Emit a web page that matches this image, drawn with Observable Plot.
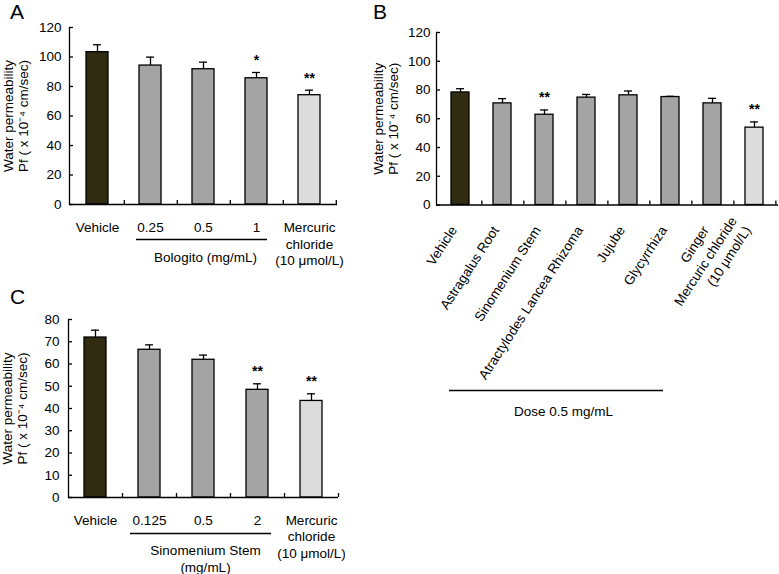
<!DOCTYPE html>
<html><head><meta charset="utf-8">
<script src="https://cdn.jsdelivr.net/npm/d3@7"></script>
<script src="https://cdn.jsdelivr.net/npm/@observablehq/plot@0.6"></script>
<style>
body{margin:0;background:#fff;}
#fig{position:relative;width:779px;height:574px;font-family:"Liberation Sans",Arial,sans-serif;color:#000;}
.panel{position:absolute;}
.letter{position:absolute;font-size:21px;line-height:1;}
</style></head><body><div id="fig"></div>
<script>
// ---- Panel A data ----
const catsA = ["Vehicle", "0.25", "0.5", "1", "Mercuric chloride"];
const labelsA = ["Vehicle", "0.25", "0.5", "1", "Mercuric\nchloride\n(10 \u03bcmol/L)"];
const valuesA = [103.3, 94.2, 91.7, 85.6, 74.1];
const errorsA = [5.0, 5.7, 4.8, 3.9, 3.4];
const sigA = ["", "", "", "*", "**"];
const kindsA = ["vehicle", "test", "test", "test", "control"];
const groupA = {label: "Bologito (mg/mL)", from: "0.25", to: "1", at: "0.5"};

// ---- Panel B data ----
const catsB = ["Vehicle", "Astragalus Root", "Sinomenium Stem", "Atractylodes Lancea Rhizoma", "Jujube", "Glycyrrhiza", "Ginger", "Mercuric chloride"];
const labelsB = ["Vehicle", "Astragalus Root", "Sinomenium Stem", "Atractylodes Lancea Rhizoma", "Jujube", "Glycyrrhiza", "Ginger", "Mercuric chloride\n(10 \u03bcmol/L)"];
const valuesB = [78.3, 70.7, 62.8, 74.7, 76.3, 75.1, 70.7, 53.8];
const errorsB = [2.6, 3.3, 3.3, 2.2, 3.0, 0.5, 3.5, 4.0];
const sigB = ["", "", "**", "", "", "", "", "**"];
const kindsB = ["vehicle", "test", "test", "test", "test", "test", "test", "control"];
const groupB = {label: "Dose 0.5 mg/mL", from: "Vehicle", to: "Glycyrrhiza", at: "Sinomenium Stem"};

// ---- Panel C data ----
const catsC = ["Vehicle", "0.125", "0.5", "2", "Mercuric chloride"];
const labelsC = ["Vehicle", "0.125", "0.5", "2", "Mercuric\nchloride\n(10 \u03bcmol/L)"];
const valuesC = [71.9, 66.4, 61.9, 48.4, 43.4];
const errorsC = [3.3, 2.2, 2.1, 2.7, 3.2];
const sigC = ["", "", "", "**", "**"];
const kindsC = ["vehicle", "test", "test", "test", "control"];
const groupC = {label: "Sinomenium Stem\n(mg/mL)", from: "0.125", to: "2", at: "0.5"};

const ticksAB = [0, 20, 40, 60, 80, 100, 120];
const ticksC = [0, 10, 20, 30, 40, 50, 60, 70, 80];
const yLabel = "Water permeability\nPf ( x 10\u207B\u2074 cm/sec)";

const FONT = '"Liberation Sans", Arial, sans-serif';
const fills = {vehicle: "#2f2c12", test: "#a4a4a4", control: "#dcdcdc"};
const SW = 1.3;

function makePanel(cfg) {
  const rows = cfg.cats.map((c, i) => ({cat: c, label: cfg.labels[i], v: cfg.values[i], e: cfg.errors[i], sig: cfg.sig[i], kind: cfg.kinds[i]}));
  const pw = cfg.width - cfg.ml - cfg.mr;
  const ph = cfg.height - cfg.mt - cfg.mb;
  const step = pw / cfg.cats.length;
  const g = cfg.group;
  const marks = [
    Plot.barY(rows, {x: "cat", y: "v", fill: d => fills[d.kind], stroke: "#000", strokeWidth: SW}),
    Plot.ruleX(rows, {x: "cat", y1: "v", y2: d => d.v + d.e, stroke: "#000", strokeWidth: SW}),
    Plot.tickY(rows, {x: "cat", y: d => d.v + d.e, stroke: "#000", strokeWidth: SW, insetLeft: cfg.capInset, insetRight: cfg.capInset}),
    Plot.text(rows.filter(d => d.sig), {x: "cat", y: d => d.v + d.e, text: "sig", dy: -12, fontSize: 14, fontWeight: "bold"}),
    Plot.ruleY([0], {stroke: "#000", strokeWidth: SW}),
    Plot.frame({anchor: "left", stroke: "#000", strokeWidth: SW}),
    Plot.tickY(cfg.yTicks, {y: d => d, insetRight: pw - 4, stroke: "#000", strokeWidth: SW}),
    Plot.tickX(cfg.cats, {x: d => d, dx: step / 2, insetTop: ph - 4, stroke: "#000", strokeWidth: SW}),
    Plot.axisY({ticks: cfg.yTicks, tickSize: 0, tickPadding: cfg.tickPad, fontSize: 13.5, label: null}),
    Plot.text([yLabel], {text: d => d, frameAnchor: "left", textAnchor: "middle", rotate: -90, dx: cfg.yLabelDx, lineHeight: 1.1, fontSize: 13.5}),
    Plot.ruleY([g], {y: () => 0, x1: d => d.from, x2: d => d.to, dy: cfg.lineDy, insetLeft: cfg.lineInsetL, insetRight: cfg.lineInsetR, stroke: "#000", strokeWidth: SW}),
    Plot.text([g], {x: d => d.at, text: d => d.label, frameAnchor: "bottom", dx: cfg.groupDx, dy: cfg.groupDy, lineAnchor: "top", lineHeight: 1.22, fontSize: 13.5})
  ];
  if (cfg.rotate) {
    marks.push(Plot.text(rows, {x: "cat", text: "label", frameAnchor: "bottom", rotate: cfg.rotate, textAnchor: "end", dx: cfg.labelDx, dy: cfg.labelDy, lineHeight: 1.25, fontSize: 13.5}));
  } else {
    marks.push(Plot.text(rows, {x: "cat", text: "label", frameAnchor: "bottom", dy: cfg.labelDy, lineAnchor: "top", lineHeight: 1.22, fontSize: 13.5}));
  }
  const svg = Plot.plot({
    width: cfg.width, height: cfg.height,
    marginLeft: cfg.ml, marginRight: cfg.mr, marginTop: cfg.mt, marginBottom: cfg.mb,
    x: {domain: cfg.cats, paddingInner: cfg.pad, paddingOuter: cfg.pad / 2, axis: null},
    y: {domain: cfg.yDomain},
    color: {type: "identity"},
    style: {fontFamily: FONT, fontSize: "13.5px", background: "transparent", color: "#000"},
    marks
  });
  svg.classList.add("panel");
  svg.style.left = cfg.left + "px";
  svg.style.top = cfg.top + "px";
  return svg;
}

const fig = document.getElementById("fig");
fig.append(makePanel({
  cats: catsA, labels: labelsA, values: valuesA, errors: errorsA, sig: sigA, kinds: kindsA, group: groupA,
  yDomain: [0, 120], yTicks: ticksAB, left: 0, top: 0, width: 345, height: 275,
  ml: 69, mr: 8, mt: 27, mb: 71, pad: 0.59, capInset: 7, tickPad: 8, yLabelDx: -54,
  labelDy: 16, lineDy: 35, lineInsetL: -3, lineInsetR: 0, groupDx: 2, groupDy: 46
}));
fig.append(makePanel({
  cats: catsB, labels: labelsB, values: valuesB, errors: errorsB, sig: sigB, kinds: kindsB, group: groupB,
  yDomain: [0, 120], yTicks: ticksAB, left: 360, top: 0, width: 419, height: 420,
  ml: 76, mr: 1, mt: 32, mb: 215.5, pad: 0.58, capInset: 5, tickPad: 6, yLabelDx: -51,
  rotate: -57, labelDx: -3, labelDy: 25, lineDy: 185.5, lineInsetL: -2, lineInsetR: 16, groupDx: 19, groupDy: 199
}));
fig.append(makePanel({
  cats: catsC, labels: labelsC, values: valuesC, errors: errorsC, sig: sigC, kinds: kindsC, group: groupC,
  yDomain: [0, 80], yTicks: ticksC, left: 0, top: 290, width: 345, height: 284,
  ml: 68, mr: 7, mt: 29, mb: 77, pad: 0.59, capInset: 7, tickPad: 9, yLabelDx: -54,
  labelDy: 15.5, lineDy: 36, lineInsetL: -8, lineInsetR: -3, groupDx: 2, groupDy: 46
}));
for (const [t, x, y] of [["A", 10, 1], ["B", 373, 1], ["C", 10, 286]]) {
  const d = document.createElement("div");
  d.className = "letter"; d.textContent = t; d.style.left = x + "px"; d.style.top = y + "px";
  fig.append(d);
}
</script></body></html>
